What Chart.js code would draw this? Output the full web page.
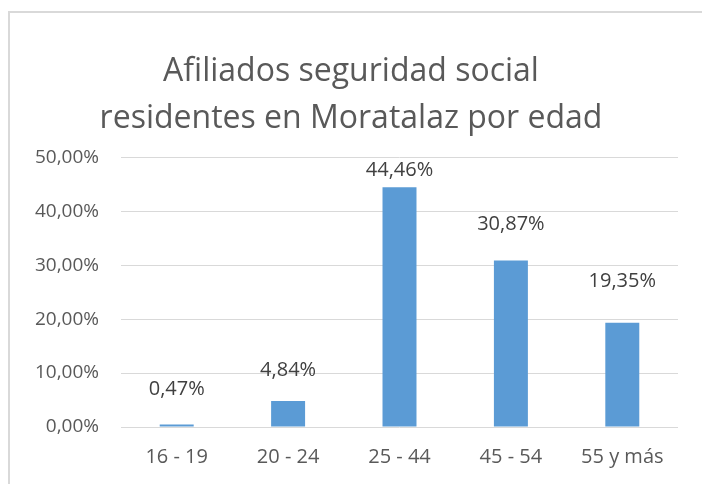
<!DOCTYPE html>
<html>
<head>
<meta charset="utf-8">
<script src="https://cdn.jsdelivr.net/npm/chart.js@4"></script>
<style>
html,body{margin:0;padding:0;background:#fff;}
canvas{display:block;}
</style>
</head>
<body>
<canvas id="c" width="702" height="484"></canvas>
<script>
const categories = ["16 - 19", "20 - 24", "25 - 44", "45 - 54", "55 y más"];
const values = [0.47, 4.84, 44.46, 30.87, 19.35];
const titleLines = ["Afiliados seguridad social", "residentes en Moratalaz por edad"];
const FONT = "'Open Sans', 'Noto Sans', sans-serif";

function pct(v){ return v.toFixed(2).replace('.', ',') + '%'; }

const frame = {
  id: 'frame',
  beforeDraw(chart){
    const ctx = chart.ctx;
    ctx.save();
    ctx.strokeStyle = '#d9d9d9';
    ctx.lineWidth = 2;
    ctx.beginPath();
    ctx.moveTo(9, 490);
    ctx.lineTo(9, 12);
    ctx.lineTo(710, 12);
    ctx.stroke();
    ctx.restore();
  }
};

const labelOffsets = [35, 31, 17, 36, 41];
const dataLabels = {
  id: 'dataLabels',
  afterDatasetsDraw(chart){
    const ctx = chart.ctx;
    const meta = chart.getDatasetMeta(0);
    ctx.save();
    ctx.font = "20px " + FONT;
    ctx.fillStyle = '#404040';
    ctx.textAlign = 'center';
    ctx.textBaseline = 'middle';
    meta.data.forEach((bar, i) => {
      ctx.fillText(pct(values[i]), bar.x, bar.y - labelOffsets[i]);
    });
    ctx.restore();
  }
};

new Chart(document.getElementById('c'), {
  type: 'bar',
  data: {
    labels: categories,
    datasets: [{
      data: values,
      backgroundColor: '#5b9bd5',
      borderWidth: 0,
      barPercentage: 0.305,
      categoryPercentage: 1
    }]
  },
  options: {
    responsive: false,
    animation: false,
    layout: { padding: { left: 24, right: 24, top: 0, bottom: 0 } },
    plugins: {
      legend: { display: false },
      tooltip: { enabled: false },
      title: {
        display: true,
        text: titleLines,
        color: '#595959',
        font: { family: FONT, size: 32, weight: 'normal', lineHeight: 1.46 },
        padding: { top: 49, bottom: 15 }
      }
    },
    scales: {
      x: {
        grid: { display: false, drawTicks: false },
        border: { display: false },
        ticks: { color: '#595959', font: { family: FONT, size: 20 }, padding: 18 },
        afterFit(s){ s.height = 57; }
      },
      y: {
        min: 0, max: 50,
        grid: { color: '#d9d9d9', lineWidth: 1, drawTicks: false },
        border: { display: false },
        ticks: {
          stepSize: 10,
          color: '#595959',
          font: { family: FONT, size: 19 },
          padding: 22,
          callback: v => pct(v)
        },
        afterFit(s){ s.width = 97; }
      }
    }
  },
  plugins: [frame, dataLabels]
});
</script>
</body>
</html>
